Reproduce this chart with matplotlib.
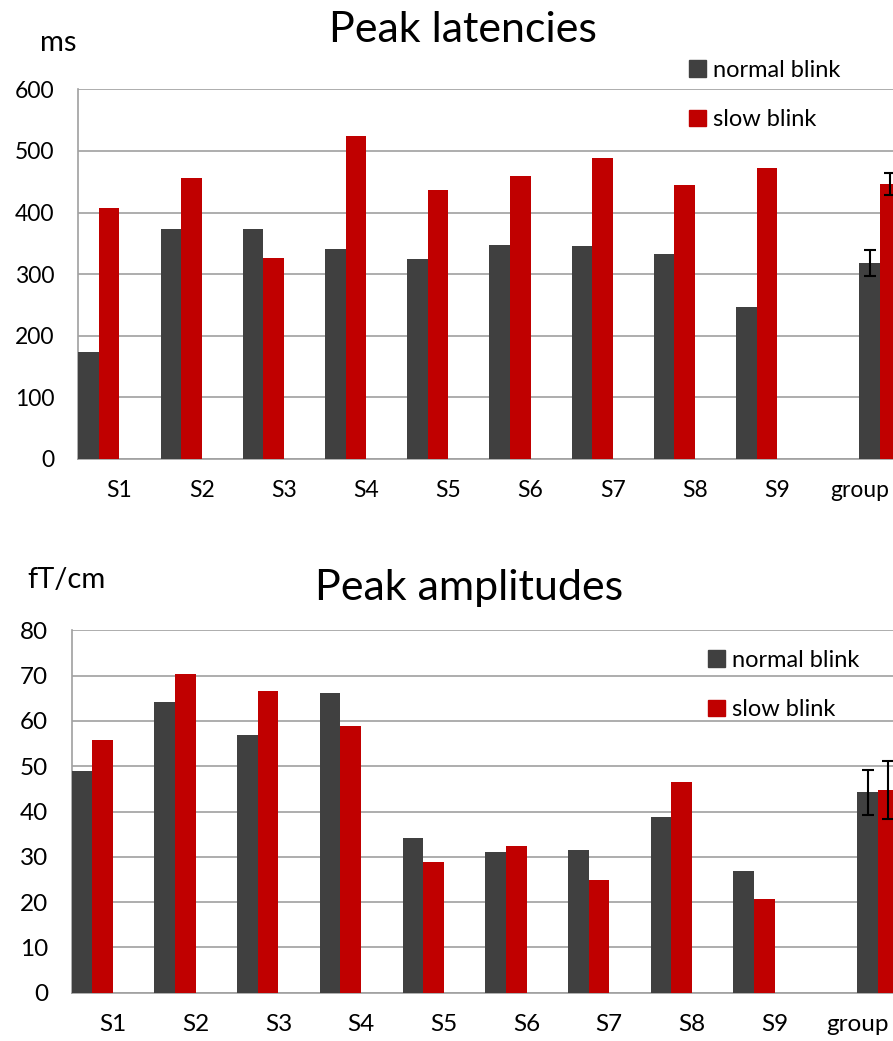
import numpy as np
import matplotlib.pyplot as plt
from matplotlib.patches import Patch

plt.rcParams['font.family'] = ['Lato', 'DejaVu Sans']

subjects = ['S1', 'S2', 'S3', 'S4', 'S5', 'S6', 'S7', 'S8', 'S9']
lat_normal = [174, 374, 374, 341, 325, 348, 346, 332, 246]
lat_slow = [408, 456, 327, 525, 436, 460, 488, 444, 472]
lat_group = [318, 446]
lat_group_err = [21, 18]

amp_normal = [49.0, 64.1, 57.0, 66.2, 34.1, 31.0, 31.5, 38.7, 26.8]
amp_slow = [55.7, 70.4, 66.6, 58.8, 28.8, 32.4, 24.9, 46.6, 20.7]
amp_group = [44.2, 44.7]
amp_group_err = [5.0, 6.4]

c_normal = '#404040'
c_slow = '#c00000'
c_grid = '#a0a0a0'

fig = plt.figure(figsize=(8.93, 10.41), dpi=100)


def draw(ax, normal, slow, group, group_err, ymax, step, tick_fs, legend_pos):
    x = np.arange(len(subjects))
    w = 0.25
    ax.bar(x - 1.5 * w, normal, w, color=c_normal, zorder=3)
    ax.bar(x - 0.5 * w, slow, w, color=c_slow, zorder=3)
    gx = len(subjects)
    ekw = dict(elinewidth=1.5, capthick=1.5, ecolor='black', zorder=4)
    ax.bar(gx + 0.5 * w, group[0], w, color=c_normal, zorder=3,
           yerr=group_err[0], capsize=4, error_kw=ekw)
    ax.bar(gx + 1.5 * w, group[1], w, color=c_slow, zorder=3,
           yerr=group_err[1], capsize=4, error_kw=ekw)
    ax.set_xlim(-0.5, len(subjects) + 0.5)
    ax.set_ylim(0, ymax)
    ax.set_yticks(np.arange(0, ymax + 1, step))
    ax.set_xticks(np.arange(len(subjects) + 1))
    ax.set_xticklabels(subjects + ['group'])
    ax.tick_params(length=0, labelsize=tick_fs, colors='black')
    ax.tick_params(axis='x', pad=15)
    ax.tick_params(axis='y', pad=17)
    ax.yaxis.grid(True, color=c_grid, linewidth=1.2, zorder=0)
    ax.set_axisbelow(True)
    for s in ['top', 'right']:
        ax.spines[s].set_visible(False)
    for s in ['left', 'bottom']:
        ax.spines[s].set_color(c_grid)
        ax.spines[s].set_linewidth(1.2)
    handles = [Patch(color=c_normal), Patch(color=c_slow)]
    ax.legend(handles, ['normal blink', 'slow blink'], loc='upper left',
              bbox_to_anchor=legend_pos, bbox_transform=fig.transFigure,
              frameon=False, fontsize=17, handlelength=0.7, handleheight=0.7,
              handletextpad=0.3, labelspacing=1.2, borderpad=0, borderaxespad=0)


ax1 = fig.add_axes([0.0877, 0.5591, 0.9208, 0.3551])
draw(ax1, lat_normal, lat_slow, lat_group, lat_group_err, 600, 100, 16.5,
     (689 / 893, 1 - 60 / 1041))
fig.text(463 / 893, 1 - 30 / 1041, 'Peak latencies', fontsize=31, ha='center', va='center')
fig.text(58 / 893, 1 - 43 / 1041, 'ms', fontsize=21, ha='center', va='center')

ax2 = fig.add_axes([0.0803, 0.0464, 0.9261, 0.3481])
draw(ax2, amp_normal, amp_slow, amp_group, amp_group_err, 80, 10, 17.5,
     (708 / 893, 1 - 650 / 1041))
fig.text(469 / 893, 1 - 588 / 1041, 'Peak amplitudes', fontsize=31, ha='center', va='center')
fig.text(66 / 893, 1 - 580 / 1041, 'fT/cm', fontsize=21, ha='center', va='center')

fig.savefig('out.png', dpi=100)
